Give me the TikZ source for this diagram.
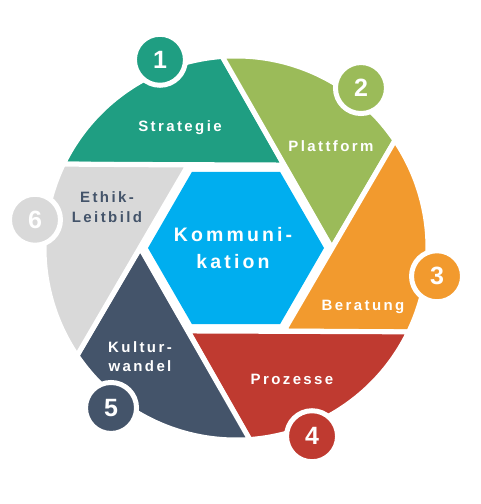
\documentclass[tikz,border=0pt]{standalone}
\usepackage{fontspec}
\setmainfont{Liberation Sans}[LetterSpace=16]
\usepackage{tikz}

\definecolor{cTeal}{HTML}{1F9E82}
\definecolor{cGreen}{HTML}{9BBB59}
\definecolor{cOrange}{HTML}{F29A2E}
\definecolor{cRed}{HTML}{BF3A30}
\definecolor{cSlate}{HTML}{44546A}
\definecolor{cGray}{HTML}{D9D9D9}
\definecolor{cBlue}{HTML}{00AEEF}

\begin{document}
\begin{tikzpicture}[x=1pt,y=1pt,
    blade/.style={draw=white,line width=5pt,line join=round},
    txt/.style={text=white,align=center,font=\bfseries\fontsize{15}{19}\selectfont},
    num/.style={circle,draw=white,line width=5pt,minimum size=51pt,inner sep=0pt,
                text=white,font=\bfseries\fontsize{25}{25}\selectfont}]
  \useasboundingbox (0,0) rectangle (481,504);

  \begin{scope}[shift={(236,256)}]
    % shutter blades
    \foreach \a/\col in {60/cTeal,0/cGreen,-60/cOrange,-120/cRed,-180/cSlate,120/cGray}
      \filldraw[blade,fill=\col] (\a:95.8) -- (\a+94.1:192)
        arc[start angle=\a+94.1,end angle=\a+34.1,radius=192] -- cycle;
    \fill[cBlue] (0:88) \foreach \a in {60,120,...,300}{-- (\a:88)} -- cycle;

    \node[num,fill=cTeal]   (n1) at (112:203) {1};
    \node[num,fill=cGreen]  (n2) at (52:203)  {2};
    \node[num,fill=cOrange] (n3) at (-8:203)  {3};
    \node[num,fill=cRed]    (n4) at (-68:203) {4};
    \node[num,fill=cSlate]  (n5) at (-128:203) {5};
    \node[num,fill=cGray]   (n6) at (172:203) {6};
  \end{scope}

  \node[txt] (strat) at (180,376) {Strategie};
  \node[txt] (platt) at (331,358) {Plattform};
  \node[txt] (berat) at (363,197) {Beratung};
  \node[txt] (proz)  at (292,125) {Prozesse};
  \node[txt] (kult)  at (140,147) {Kultur-\\wandel};
  \node[txt,text=cSlate,font=\bfseries\fontsize{15}{20}\selectfont] (ethik) at (107,297) {Ethik-\\Leitbild};
  \node[txt,font=\bfseries\fontsize{19.5}{27}\selectfont] (komm) at (233,256) {Kommuni-\\kation};
\end{tikzpicture}
\end{document}
